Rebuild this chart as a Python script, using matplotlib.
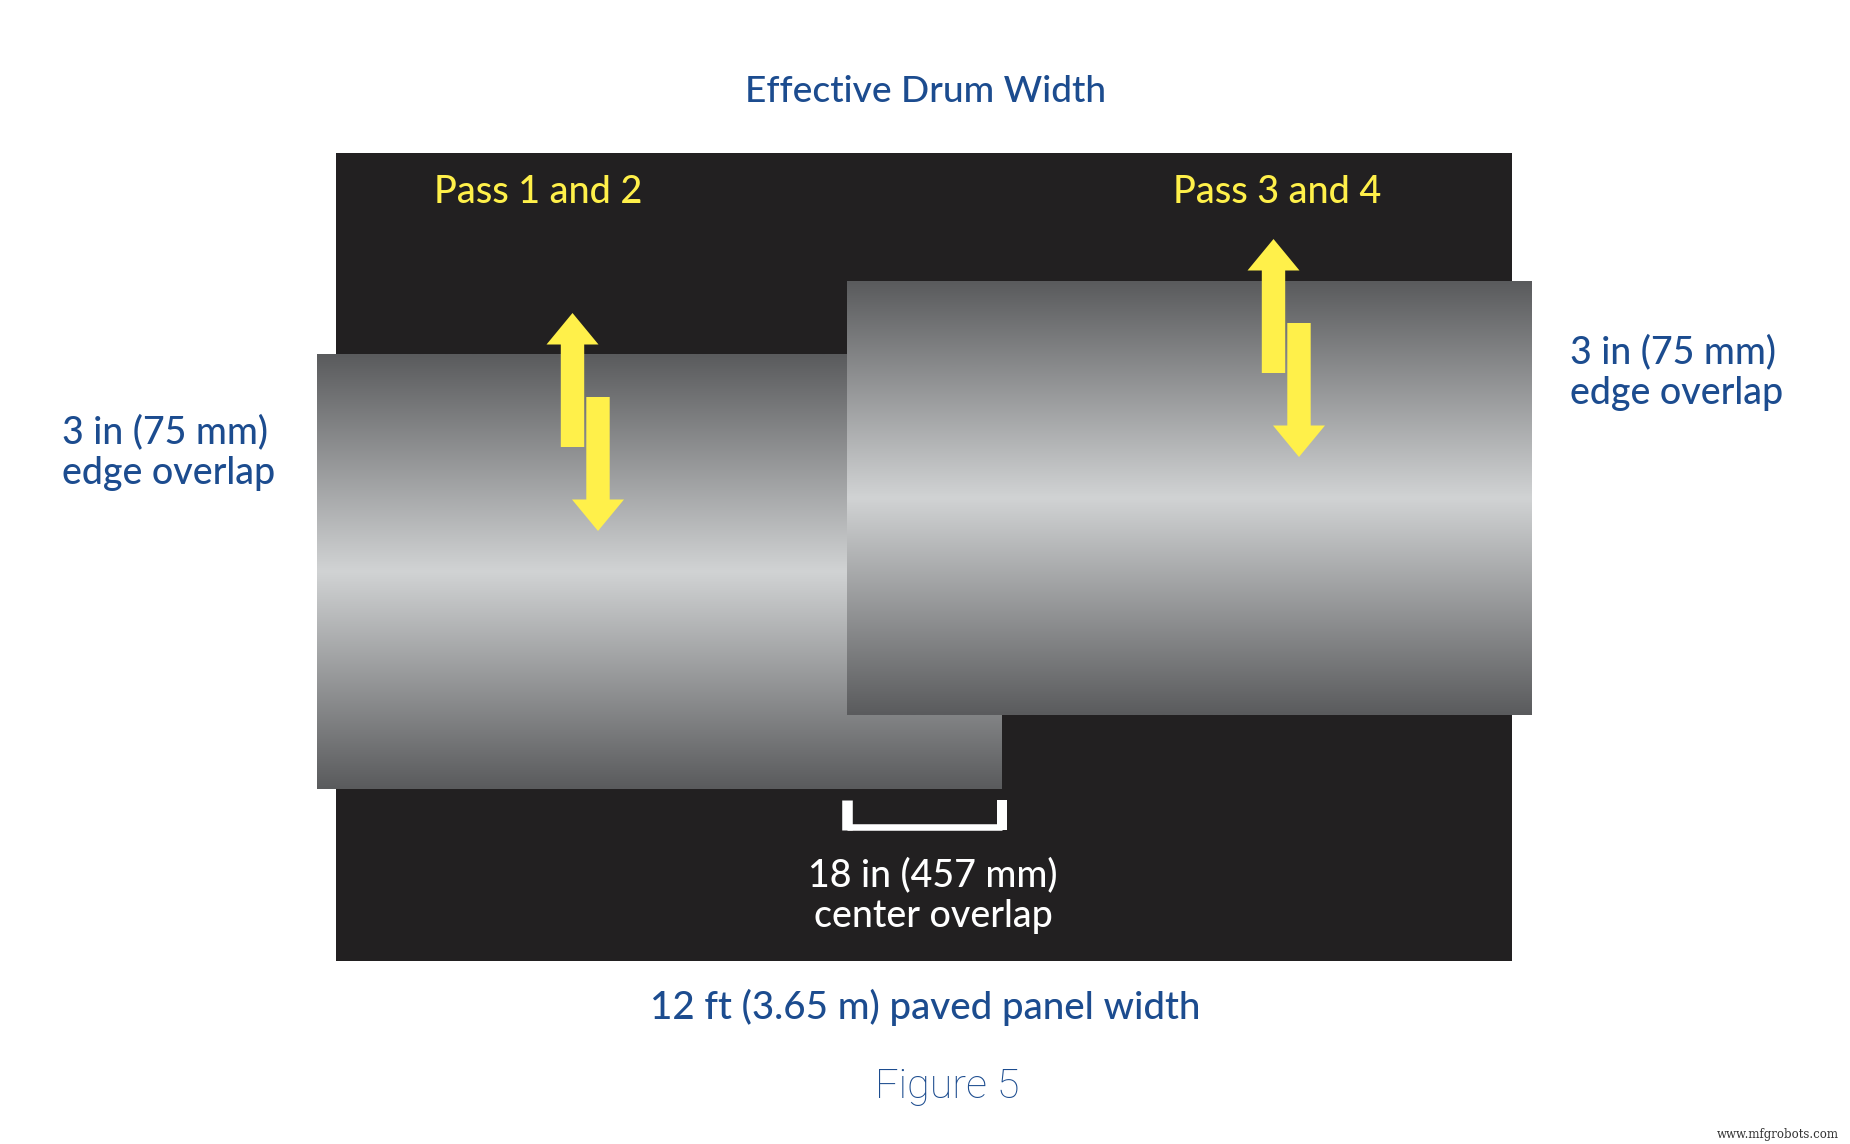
import numpy as np
import matplotlib
matplotlib.use("Agg")
import matplotlib.pyplot as plt
from matplotlib.colors import LinearSegmentedColormap
from matplotlib.patches import Rectangle, Polygon

W, H = 1850, 1144
BLUE = "#1c4c8f"; YELLOW = "#fff04a"; DARK = "#222021"
plt.rcParams["font.family"] = ["Lato", "DejaVu Sans"]

panel = (336, 153, 1512, 961)
drums = [(317, 354, 1002, 789), (847, 281, 1532, 715)]
arrows_up = [(572.5, 313, 447), (1273.5, 239, 373)]
arrows_down = [(598, 397, 531), (1299, 323, 457)]
grad_pos = [0, 0.5, 1]
grad_col = ["#5a5b5d", "#d1d3d4", "#5a5b5d"]
bracket = (846.5, 800, 1002, 827)
labels = [
    ("Effective Drum Width", 926, 102, BLUE, 26.7, "center"),
    ("Pass 1 and 2", 538, 203, YELLOW, 27.2, "center"),
    ("Pass 3 and 4", 1277.5, 203, YELLOW, 27.2, "center"),
    ("3 in (75 mm)\nedge overlap", 62, 484, BLUE, 27, "left"),
    ("3 in (75 mm)\nedge overlap", 1570, 404, BLUE, 27, "left"),
    ("18 in (457 mm)\ncenter overlap", 933, 927, "white", 27, "center"),
    ("12 ft (3.65 m) paved panel width", 925, 1019.5, BLUE, 27.7, "center"),
]

fig = plt.figure(figsize=(W / 100, H / 100), dpi=100)
ax = fig.add_axes([0, 0, 1, 1])
ax.set_xlim(0, W); ax.set_ylim(H, 0); ax.axis("off")
ax.add_patch(Rectangle((panel[0], panel[1]), panel[2] - panel[0], panel[3] - panel[1], fc=DARK, ec="none", zorder=1))
cmap = LinearSegmentedColormap.from_list("drum", list(zip(grad_pos, grad_col)))
g = np.linspace(0, 1, 256).reshape(-1, 1)
for i, (x0, y0, x1, y1) in enumerate(drums):
    ax.imshow(g, cmap=cmap, extent=(x0, x1, y1, y0), aspect="auto", zorder=2 + 2 * i, interpolation="bilinear")
ax.set_xlim(0, W); ax.set_ylim(H, 0)

def arrow(x, tail, tip, z):
    s = 1 if tip > tail else -1
    hw, sw, hl = 26, 11.7, 31.5
    pts = [(x - sw, tail), (x + sw, tail), (x + sw, tip - s * hl), (x + hw, tip - s * hl), (x, tip),
           (x - hw, tip - s * hl), (x - sw, tip - s * hl)]
    ax.add_patch(Polygon(pts, closed=True, fc=YELLOW, ec="none", zorder=z))

for i, (x, tip, tail) in enumerate(arrows_up):
    arrow(x, tail, tip, 3 + 2 * i)
for i, (x, tail, tip) in enumerate(arrows_down):
    arrow(x, tail, tip, 3 + 2 * i)

bx0, by0, bx1, by1 = bracket
ax.plot([bx0, bx0], [by0, by1 + 3], color="white", lw=7.6, solid_capstyle="butt", zorder=6)
ax.plot([bx1, bx1], [by0, by1 + 3], color="white", lw=7.2, solid_capstyle="butt", zorder=6)
ax.plot([bx0, bx1], [by1, by1], color="white", lw=4.7, solid_capstyle="butt", zorder=6)
for t, x, y, c, s, ha in labels:
    ax.text(x, y, t, color=c, fontsize=s, ha=ha, va="baseline", linespacing=1.21, zorder=7,
            fontweight="medium", multialignment="center" if ha == "center" else "left")
ax.text(947.5, 1098, "Figure 5", color=BLUE, fontsize=29.7, ha="center", va="baseline", family=["Roboto", "DejaVu Sans"], fontweight="light", zorder=7)
ax.text(1839, 1138, "www.mfgrobots.com", color="#333333", fontsize=8.5, ha="right", va="baseline", family="DejaVu Serif", zorder=7)
fig.savefig("out.png", dpi=100, facecolor="white")
